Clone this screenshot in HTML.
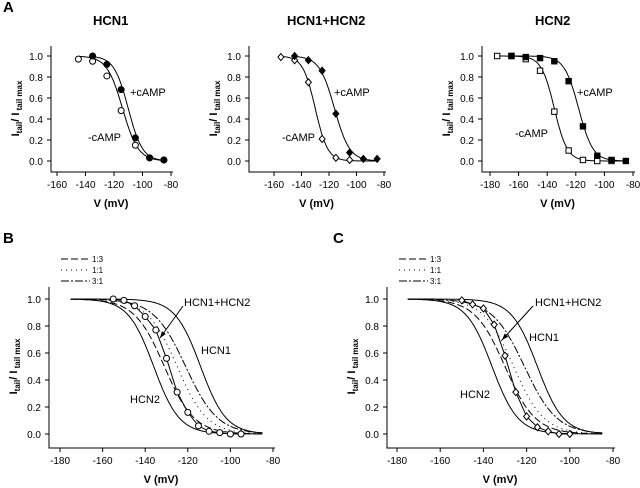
<!DOCTYPE html>
<html><head><meta charset="utf-8"><style>
body{margin:0;background:#fff}
svg{display:block;font-family:"Liberation Sans",Arial,sans-serif}
</style></head><body>
<svg id="fig" width="640" height="488" viewBox="0 0 640 488"></svg>
<script>
// ---- data ----
const a1MinusV=[-145,-135,-125,-115,-105,-95,-85];
const a1MinusY=[0.97,0.95,0.81,0.48,0.15,0.03,0.01];
const a1PlusV=[-135,-125,-115,-105,-95,-85];
const a1PlusY=[1.0,0.92,0.68,0.22,0.03,0.01];
const a2MinusV=[-155,-145,-135,-125,-115,-105];
const a2MinusY=[0.99,0.96,0.75,0.21,0.03,0.01];
const a2PlusV=[-145,-135,-125,-115,-105,-95,-85];
const a2PlusY=[1.0,0.96,0.86,0.45,0.08,0.02,0.02];
const a3MinusV=[-175,-165,-155,-145,-135,-125,-115,-105,-95];
const a3MinusY=[1.0,1.0,0.97,0.86,0.47,0.1,0.01,0.0,0.0];
const a3PlusV=[-165,-155,-145,-135,-125,-115,-105,-95,-85];
const a3PlusY=[1.0,0.99,0.98,0.95,0.76,0.33,0.05,0.01,0.0];
// Boltzmann fit parameters [V50, slope]
const fitA1=[[-114,5.5],[-110,5]];
const fitA2=[[-130,4.5],[-116,5.5]];
const fitA3=[[-135,4.5],[-118,5]];
const fitB={hcn1:[-114,6],hcn2:[-136,6],r13:[-131,7],r11:[-125,7],r31:[-121,7.5]};
const fitC={hcn1:[-115,6],hcn2:[-136,6],r13:[-130,7],r11:[-126,7],r31:[-121,7.5]};
const bV=[-155,-150,-145,-140,-135,-130,-125,-120,-115,-110,-105,-100,-95];
const bY=[1.0,0.99,0.95,0.87,0.77,0.56,0.31,0.16,0.06,0.02,0.01,0.0,0.0];
const cV=[-150,-145,-140,-135,-130,-125,-120,-115,-110,-105,-100];
const cY=[0.99,0.96,0.93,0.81,0.58,0.31,0.13,0.05,0.02,0.0,0.0];
const yTicks=[0,0.2,0.4,0.6,0.8,1.0];

const svg=document.getElementById('fig');
const NS='http://www.w3.org/2000/svg';
function mk(tag,attrs,parent,text){const e=document.createElementNS(NS,tag);for(const k in attrs)e.setAttribute(k,attrs[k]);if(text!==undefined)e.textContent=text;(parent||svg).appendChild(e);return e;}
function bz(v,p){return 1/(1+Math.exp((v-p[0])/p[1]));}

function panel(name,o){
  const g=mk('g',{});
  
  
  const X=v=>o.x0+(v-o.vmin)/(o.vmax-o.vmin)*(o.x1-o.x0);
  const Y=y=>o.y0+(1-y)*(o.y1-o.y0);
  const ax=mk('path',{d:`M${o.ax},${o.top}V${o.bot}H${o.x1+2}`,stroke:'#000',fill:'none','stroke-width':1},g);
  
  yTicks.forEach(t=>{mk('line',{x1:o.ax-4,x2:o.ax,y1:Y(t),y2:Y(t),stroke:'#000'},g);
    const tl=mk('text',{x:o.ax-8,y:Y(t)+4,'font-size':10,'text-anchor':'end'},g,t.toFixed(1));
    });
  for(let v=o.vmin;v<=o.vmax;v+=20){mk('line',{x1:X(v),x2:X(v),y1:o.bot,y2:o.bot+4,stroke:'#000'},g);
    const tl=mk('text',{x:X(v),y:o.bot+16,'font-size':10,'text-anchor':'middle'},g,String(v));
    }
  const xt=mk('text',{x:(o.ax+o.x1)/2,y:o.bot+35,'font-size':11,'font-weight':'bold','text-anchor':'middle'},g,'V (mV)');
  
  const yl=mk('text',{transform:`translate(${o.ax-32},${(o.y0+o.y1)/2}) rotate(-90)`,'font-size':11,'font-weight':'bold','text-anchor':'middle'},g);
  
  mk('tspan',{},yl,'I');mk('tspan',{'font-size':8,dy:3},yl,'tail');mk('tspan',{dy:-3},yl,'/ I');mk('tspan',{'font-size':8,dy:3},yl,' tail max');
  return {g,X,Y};
}
function curve(P,g,p,v0,v1,dash,name){
  let d='';for(let v=v0;v<=v1;v+=0.5){d+=(d?'L':'M')+P.X(v).toFixed(1)+','+P.Y(bz(v,p)).toFixed(1);}
  const e=mk('path',{d,fill:'none',stroke:'#000','stroke-width':1,'stroke-dasharray':dash||'none'},g);
  
}
function pts(P,g,vs,ys,shape,fill,name,line){
  if(line){let d='';vs.forEach((v,i)=>{d+=(i?'L':'M')+P.X(v)+','+P.Y(ys[i]);});mk('path',{d,fill:'none',stroke:'#000'},g);}
  vs.forEach((v,i)=>{const x=P.X(v),y=P.Y(ys[i]);let e;
    if(shape==='c')e=mk('circle',{cx:x,cy:y,r:3,fill,stroke:'#000'},g);
    else if(shape==='s')e=mk('rect',{x:x-2.7,y:y-2.7,width:5.4,height:5.4,fill,stroke:'#000'},g);
    else e=mk('path',{d:`M${x},${y-3.5}L${x+3},${y}L${x},${y+3.5}L${x-3},${y}Z`,fill,stroke:'#000'},g);
    });
}
function label(g,x,y,t,size,bold,name){const e=mk('text',{x,y,'font-size':size,'font-weight':bold?'bold':'normal'},g,t);
  return e;}

label(svg,3,12,'A',15,true,'panel-label-a');
const A1=panel('panel-a-hcn1',{ax:51,x0:57,x1:171,vmin:-160,vmax:-80,y0:56,y1:161,top:46,bot:172});
curve(A1,A1.g,fitA1[0],-145,-85,null,'fit-minus-camp');curve(A1,A1.g,fitA1[1],-135,-85,null,'fit-plus-camp');
pts(A1,A1.g,a1MinusV,a1MinusY,'c','#fff','point-minus-camp');pts(A1,A1.g,a1PlusV,a1PlusY,'c','#000','point-plus-camp');
label(A1.g,93,25,'HCN1',13,true,'title-hcn1');label(A1.g,130,96,'+cAMP',11,false,'label-plus-camp');label(A1.g,88,141,'-cAMP',11,false,'label-minus-camp');

const A2=panel('panel-a-hcn1-hcn2',{ax:249,x0:274,x1:384,vmin:-160,vmax:-80,y0:56,y1:161,top:46,bot:172});
curve(A2,A2.g,fitA2[0],-155,-85,null,'fit-minus-camp');curve(A2,A2.g,fitA2[1],-145,-85,null,'fit-plus-camp');
pts(A2,A2.g,a2MinusV,a2MinusY,'d','#fff','point-minus-camp');pts(A2,A2.g,a2PlusV,a2PlusY,'d','#000','point-plus-camp');
label(A2.g,287,25,'HCN1+HCN2',13,true,'title-hcn1-hcn2');label(A2.g,334,96,'+cAMP',11,false,'label-plus-camp');label(A2.g,282,141,'-cAMP',11,false,'label-minus-camp');

const A3=panel('panel-a-hcn2',{ax:482,x0:490,x1:633,vmin:-180,vmax:-80,y0:56,y1:161,top:46,bot:172});
curve(A3,A3.g,fitA3[0],-175,-85,null,'fit-minus-camp');curve(A3,A3.g,fitA3[1],-165,-85,null,'fit-plus-camp');
pts(A3,A3.g,a3MinusV,a3MinusY,'s','#fff','point-minus-camp');pts(A3,A3.g,a3PlusV,a3PlusY,'s','#000','point-plus-camp');
label(A3.g,535,25,'HCN2',13,true,'title-hcn2');label(A3.g,577,96,'+cAMP',11,false,'label-plus-camp');label(A3.g,515,137,'-cAMP',11,false,'label-minus-camp');

function lower(name,letter,lx,o,fit,vs,ys,lab,shape){
  label(svg,lx,243,letter,15,true,'panel-label-'+letter.toLowerCase());
  const P=panel(name,o);
  curve(P,P.g,fit.hcn1,-175,-85,null,'curve-hcn1');curve(P,P.g,fit.hcn2,-175,-85,null,'curve-hcn2');
  curve(P,P.g,fit.r13,-175,-85,'7,3','curve-ratio-1-3');curve(P,P.g,fit.r11,-175,-85,'1,4','curve-ratio-1-1');
  curve(P,P.g,fit.r31,-175,-85,'8,2,2,2','curve-ratio-3-1');
  pts(P,P.g,vs,ys,shape,'#fff','point-hcn1-hcn2',true);
  const lg=mk('g',{},P.g);
  [['1:3','7,3'],['1:1','1,4'],['3:1','8,2,2,2']].forEach((r,i)=>{const y=259+i*11;
    mk('line',{x1:o.ax+12,x2:o.ax+41,y1:y,y2:y,stroke:'#000','stroke-dasharray':r[1]},lg);
    label(lg,o.ax+43,y+3,r[0],8,false,'legend-entry');});
  label(P.g,lab[0],lab[1],'HCN1+HCN2',11,false,'label-hcn1-hcn2');
  label(P.g,lab[2],lab[3],'HCN1',11,false,'label-hcn1');
  label(P.g,lab[4],lab[5],'HCN2',11,false,'label-hcn2');
  const ar=mk('path',{d:`M${lab[6]},${lab[7]}L${lab[8]},${lab[9]}`,stroke:'#000',fill:'none'},P.g);
  
  const ang=Math.atan2(lab[9]-lab[7],lab[8]-lab[6]),hx=lab[8],hy=lab[9];
  mk('path',{d:`M${hx},${hy}L${hx-7*Math.cos(ang-0.35)},${hy-7*Math.sin(ang-0.35)}L${hx-7*Math.cos(ang+0.35)},${hy-7*Math.sin(ang+0.35)}Z`,fill:'#000'},P.g);
}
lower('panel-b','B',3,{ax:49,x0:60,x1:273,vmin:-180,vmax:-80,y0:299,y1:434,top:287,bot:448},fitB,bV,bY,[184,306,201,354,130,403,183,306,160,338],'c');
lower('panel-c','C',333,{ax:387,x0:397,x1:613,vmin:-180,vmax:-80,y0:299,y1:434,top:287,bot:448},fitC,cV,cY,[535,306,529,341,460,398,533,306,502,340],'d');
</script>
</body></html>
